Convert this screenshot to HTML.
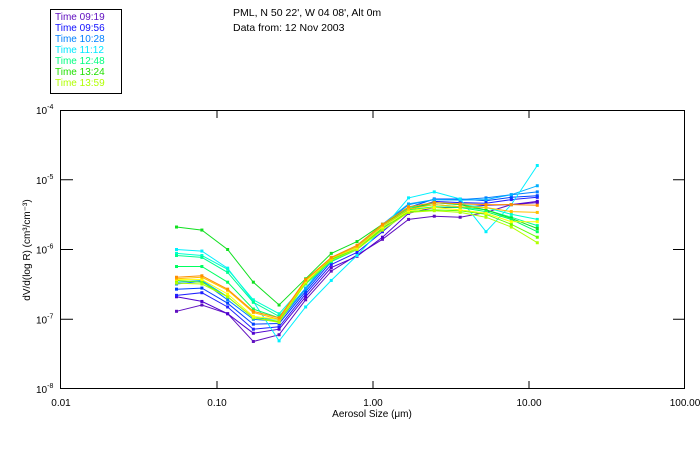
<!DOCTYPE html>
<html><head><meta charset="utf-8"><style>
html,body{margin:0;padding:0;background:#fff;}
svg{display:block;font-family:"Liberation Sans",sans-serif;}
</style></head><body>
<svg id="chart" width="700" height="450" viewBox="0 0 700 450">
  <rect x="0" y="0" width="700" height="450" fill="#fff"/>
  <g>
    <rect x="50.5" y="9.5" width="71" height="84" fill="none" stroke="#000" stroke-width="1"/>
    <g id="legendItems" font-size="10"></g>
  </g>
  <text x="233" y="16" font-size="10.5" fill="#000">PML, N 50 22', W 04 08', Alt 0m</text>
  <text x="233" y="31" font-size="10.5" fill="#000">Data from: 12 Nov 2003</text>
  <g id="series"></g>
  <rect x="60.5" y="110.5" width="624" height="278" fill="none" stroke="#000" stroke-width="1"/>
  <g id="axes" font-size="10" fill="#000"></g>
  <text x="372" y="417" font-size="10" text-anchor="middle">Aerosol Size (μm)</text>
  <text transform="translate(30,250) rotate(-90)" font-size="10" text-anchor="middle">dV/d(log R) (cm³/cm⁻³)</text>
</svg>
<script>
const sizes=[0.055,0.080,0.117,0.171,0.25,0.37,0.54,0.79,1.15,1.69,2.47,3.62,5.3,7.7,11.3];
const xTicks=[0.01,0.1,1,10,100];
const xTickLabels=["0.01","0.10","1.00","10.00","100.00"];
const yTicks=[1e-4,1e-5,1e-6,1e-7,1e-8];
const yTickExps=["-4","-5","-6","-7","-8"];
const legendLabels=["Time 09:19","Time 09:56","Time 10:28","Time 11:12","Time 12:48","Time 13:24","Time 13:59"];
const legendColors=["#6010c0","#1010ff","#0080ff","#00e8ff","#00ff80","#20e000","#b0ff00"];
const seriesColors=["#6010c0","#5000d0","#2020ff","#0040ff","#0080ff","#00b0ff","#00f0ff","#00ffd0","#00ff90","#10e020","#00ff60","#60ff00","#b0ff00","#ffff00","#ffc000","#ff9000"];
const s1=[1.3e-7,1.6e-7,1.2e-7,4.8e-8,6.0e-8,1.9e-7,4.9e-7,8.3e-7,1.4e-6,2.7e-6,3.0e-6,2.9e-6,3.4e-6,4.4e-6,4.7e-6];
const s2=[2.1e-7,1.8e-7,1.2e-7,6.3e-8,7.2e-8,2.1e-7,5.5e-7,8.0e-7,1.5e-6,3.3e-6,4.0e-6,4.0e-6,4.3e-6,4.4e-6,4.9e-6];
const s3=[2.2e-7,2.4e-7,1.5e-7,7.2e-8,7.8e-8,2.3e-7,6.1e-7,9.1e-7,1.8e-6,3.7e-6,4.9e-6,4.7e-6,4.6e-6,5.2e-6,5.6e-6];
const s4=[2.7e-7,2.8e-7,1.7e-7,8.5e-8,8.7e-8,2.5e-7,6.7e-7,1.0e-6,2.0e-6,4.0e-6,5.3e-6,5.3e-6,5.0e-6,5.6e-6,5.9e-6];
const s5=[3.2e-7,3.5e-7,1.9e-7,1.0e-7,9.3e-8,2.7e-7,7.2e-7,1.05e-6,2.2e-6,4.4e-6,5.2e-6,5.2e-6,5.5e-6,6.1e-6,6.7e-6];
const s6=[3.4e-7,3.6e-7,2.1e-7,1.05e-7,1.0e-7,2.8e-7,7.7e-7,1.1e-6,2.3e-6,4.5e-6,5.2e-6,5.1e-6,5.2e-6,6.1e-6,8.2e-6];
const s7=[1.0e-6,9.5e-7,5.4e-7,1.8e-7,4.9e-8,1.5e-7,3.6e-7,8.2e-7,2.0e-6,5.5e-6,6.7e-6,5.3e-6,1.8e-6,4.4e-6,1.6e-5];
const s8=[8.8e-7,8.2e-7,5.2e-7,1.9e-7,1.2e-7,3.2e-7,6.7e-7,1.0e-6,2.1e-6,4.1e-6,4.7e-6,4.4e-6,4.0e-6,3.2e-6,2.7e-6];
const s9=[8.2e-7,7.7e-7,4.7e-7,1.75e-7,1.1e-7,3.2e-7,6.7e-7,1.0e-6,2.1e-6,4.0e-6,4.4e-6,4.1e-6,3.7e-6,2.9e-6,2.2e-6];
const s10=[2.1e-6,1.9e-6,1.0e-6,3.4e-7,1.6e-7,3.8e-7,8.8e-7,1.3e-6,2.3e-6,3.8e-6,4.7e-6,4.4e-6,3.7e-6,2.8e-6,2.0e-6];
const s11=[5.7e-7,5.7e-7,3.4e-7,1.4e-7,1.05e-7,3.3e-7,7.2e-7,1.05e-6,2.1e-6,3.7e-6,4.1e-6,4.0e-6,3.5e-6,2.7e-6,1.8e-6];
const s12=[3.6e-7,3.4e-7,2.1e-7,1.05e-7,9.3e-8,3.3e-7,7.2e-7,1.0e-6,2.0e-6,3.5e-6,3.7e-6,3.6e-6,3.2e-6,2.3e-6,1.5e-6];
const s13=[3.3e-7,3.2e-7,2.1e-7,1.05e-7,9.0e-8,3.3e-7,7.0e-7,1.0e-6,1.9e-6,3.4e-6,3.6e-6,3.4e-6,2.9e-6,2.1e-6,1.25e-6];
const s14=[3.7e-7,3.7e-7,2.3e-7,1.1e-7,1.0e-7,3.5e-7,7.5e-7,1.05e-6,2.1e-6,3.6e-6,4.0e-6,3.7e-6,3.3e-6,2.5e-6,2.5e-6];
const s15=[3.8e-7,4.0e-7,2.6e-7,1.25e-7,1.0e-7,3.6e-7,7.5e-7,1.1e-6,2.2e-6,3.8e-6,4.4e-6,4.1e-6,4.0e-6,3.5e-6,3.4e-6];
const s16=[4.0e-7,4.2e-7,2.7e-7,1.3e-7,1.05e-7,3.7e-7,7.7e-7,1.15e-6,2.3e-6,4.1e-6,4.7e-6,4.5e-6,4.4e-6,4.4e-6,4.3e-6];
const allSeries=[s1,s2,s3,s4,s5,s6,s7,s8,s9,s10,s11,s12,s13,s14,s15,s16];

const NS="http://www.w3.org/2000/svg";
const X0=61,X1=685,Y0=389,Y1=110;
function xScale(v){return X0+(Math.log10(v)+2)/4*(X1-X0);}
function yScale(v){return Y0-(Math.log10(v)+8)/4*(Y0-Y1);}
function mk(tag,attrs,parent){const e=document.createElementNS(NS,tag);for(const k in attrs)e.setAttribute(k,attrs[k]);parent.appendChild(e);return e;}

const axes=document.getElementById('axes');
xTicks.forEach((t,i)=>{
  const x=xScale(t);
  if(i>0&&i<xTicks.length-1){
    const tk=mk('line',{x1:x,x2:x,y1:Y0,y2:Y0-8,stroke:'#000'},axes);
    
    
    const tt=mk('line',{x1:x,x2:x,y1:Y1,y2:Y1+8,stroke:'#000'},axes);
    
    
  }
  const lb=mk('text',{x:x,y:406,'text-anchor':'middle'},axes);
  lb.textContent=xTickLabels[i];
  
  
});
yTicks.forEach((t,i)=>{
  const y=yScale(t);
  if(i>0&&i<yTicks.length-1){
    const tk=mk('line',{x1:X0,x2:X0+12,y1:y,y2:y,stroke:'#000'},axes);
    
    
    const tr=mk('line',{x1:X1,x2:X1-12,y1:y,y2:y,stroke:'#000'},axes);
    
    
  }
  const lb=mk('text',{x:36,y:y+4},axes);
  
  
  const base=mk('tspan',{},lb);base.textContent='10';
  const sup=mk('tspan',{dy:-5,'font-size':'7'},lb);sup.textContent=yTickExps[i];
});

const sg=document.getElementById('series');
allSeries.forEach((vals,si)=>{
  const col=seriesColors[si];
  const g=mk('g',{},sg);
  
  
  const pts=vals.map((v,i)=>xScale(sizes[i]).toFixed(1)+','+yScale(v).toFixed(1)).join(' ');
  const pl=mk('polyline',{points:pts,fill:'none',stroke:col,'stroke-width':1},g);
  
  
  vals.forEach((v,i)=>{
    const r=mk('rect',{x:xScale(sizes[i])-1.5,y:yScale(v)-1.5,width:3,height:3,fill:col},g);
    
    
  });
});

const lg=document.getElementById('legendItems');
legendLabels.forEach((l,i)=>{
  const t=mk('text',{x:55,y:20+i*11,fill:legendColors[i]},lg);
  t.textContent=l;
  
  
});
</script>
</body></html>
